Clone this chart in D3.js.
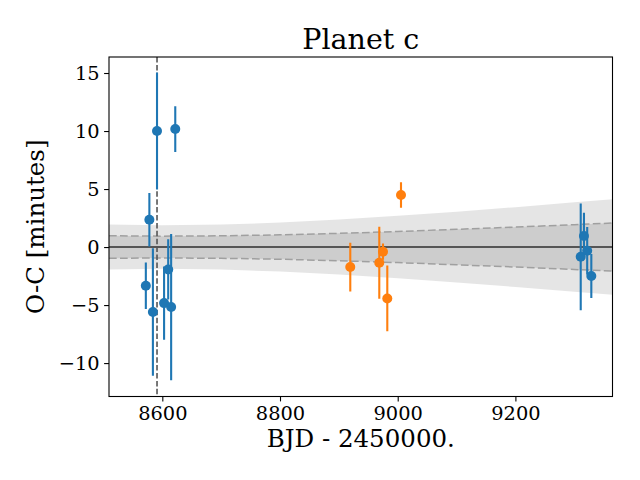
<!DOCTYPE html>
<html>
<head>
<meta charset="utf-8">
<script src="https://cdn.jsdelivr.net/npm/d3@7"></script>
<style>
  html, body { margin: 0; padding: 0; background: #fff; }
  svg { display: block; font-family: "DejaVu Serif", serif; }
</style>
</head>
<body>
<svg id="chart" width="640" height="480"></svg>
<script>
// ---- data ----
const blueTimes = [8572, 8578, 8584, 8591, 8603, 8610, 8615, 8622, 9311, 9316.5, 9322, 9329];
const blueOC    = [-3.34, 2.35, -5.6, 10.0, -4.83, -1.93, -5.17, 10.17, -0.84, 0.95, -0.32, -2.5];
const blueErr   = [2.0, 2.3, 5.5, 5.05, 3.15, 2.6, 6.3, 1.97, 4.6, 2.0, 2.04, 1.9];

const orangeTimes = [8919.4, 8968.7, 8975.0, 8982.3, 9005.6];
const orangeOC    = [-1.72, -1.36, -0.4, -4.43, 4.48];
const orangeErr   = [2.1, 3.1, 0.7, 2.83, 1.1];

// uncertainty band half-widths (minutes) read at sample times
const bandTimes = [8509.4, 8600, 8700, 8800, 8900, 9000, 9100, 9200, 9300, 9365];
const band1     = [0.97, 0.94, 0.97, 1.05, 1.18, 1.34, 1.53, 1.72, 1.93, 2.07];
const band2     = [1.94, 1.88, 1.94, 2.11, 2.37, 2.69, 3.05, 3.44, 3.86, 4.12];

const refEpoch = 8591;   // vertical dashed line
const xTicks = [8600, 8800, 9000, 9200];
const yTicks = [-10, -5, 0, 5, 10, 15];
const xDomain = [8509.4, 9365];
const yDomain = [-12.88, 16.38];

// ---- layout ----
const svg = d3.select("#chart");
const L = 109, R = 612.5, T = 57, B = 396.5;
const x = d3.scaleLinear().domain(xDomain).range([L, R]);
const y = d3.scaleLinear().domain(yDomain).range([B, T]);

svg.append("defs").append("clipPath").attr("id", "clip")
  .append("rect").attr("x", L).attr("y", T).attr("width", R - L).attr("height", B - T);

const g = svg.append("g").attr("clip-path", "url(#clip)");

const bandData = bandTimes.map((t, i) => ({t, s1: band1[i], s2: band2[i]}));

// outer band
g.append("path").datum(bandData)
  .attr("d", d3.area().x(d => x(d.t)).y0(d => y(-d.s2)).y1(d => y(d.s2)))
  .attr("fill", "#000").attr("fill-opacity", 0.1);
// inner band
g.append("path").datum(bandData)
  .attr("d", d3.area().x(d => x(d.t)).y0(d => y(-d.s1)).y1(d => y(d.s1)))
  .attr("fill", "#000").attr("fill-opacity", 0.1);

// dashed band edges
[s => s, s => -s].forEach(f => {
  g.append("path").datum(bandData)
    .attr("d", d3.line().x(d => x(d.t)).y(d => y(f(d.s1))))
    .attr("fill", "none").attr("stroke", "#a0a0a0").attr("stroke-width", 1.5)
    .attr("stroke-dasharray", "7.7,3.3");
});

// zero line
g.append("line")
  .attr("x1", L).attr("x2", R).attr("y1", y(0)).attr("y2", y(0))
  .attr("stroke", "#555").attr("stroke-width", 2);

// vertical reference line
g.append("line")
  .attr("x1", x(refEpoch)).attr("x2", x(refEpoch)).attr("y1", T).attr("y2", B)
  .attr("stroke", "#555").attr("stroke-width", 1.6)
  .attr("stroke-dasharray", "5.5,2.4");

function series(times, oc, err, color) {
  const data = times.map((t, i) => ({t, v: oc[i], e: err[i]}));
  const sg = g.append("g");
  sg.selectAll("line.err").data(data).enter().append("line")
    .attr("x1", d => x(d.t)).attr("x2", d => x(d.t))
    .attr("y1", d => y(d.v - d.e)).attr("y2", d => y(d.v + d.e))
    .attr("stroke", color).attr("stroke-width", 2.1);
  sg.selectAll("circle").data(data).enter().append("circle")
    .attr("cx", d => x(d.t)).attr("cy", d => y(d.v)).attr("r", 5)
    .attr("fill", color);
}
series(blueTimes, blueOC, blueErr, "#1f77b4");
series(orangeTimes, orangeOC, orangeErr, "#ff7f0e");

// axes
const xAxis = svg.append("g").attr("transform", `translate(0,${B})`)
  .call(d3.axisBottom(x).tickValues(xTicks).tickFormat(d3.format("d")).tickSize(4.9).tickPadding(4.5).tickSizeOuter(0));
const yAxis = svg.append("g").attr("transform", `translate(${L},0)`)
  .call(d3.axisLeft(y).tickValues(yTicks).tickFormat(d3.format("d")).tickSize(4.9).tickPadding(4.5).tickSizeOuter(0));
[xAxis, yAxis].forEach(a => {
  a.select(".domain").remove();
  a.selectAll("line").attr("stroke", "#000").attr("stroke-width", 1.1);
  a.selectAll("text").attr("font-family", "DejaVu Serif, serif").attr("font-size", 19.4).attr("fill", "#000");
});

// frame
svg.append("rect").attr("x", L).attr("y", T).attr("width", R - L).attr("height", B - T)
  .attr("fill", "none").attr("stroke", "#000").attr("stroke-width", 1.1);

// labels
svg.append("text").attr("x", (L + R) / 2).attr("y", 48.5).attr("text-anchor", "middle")
  .attr("font-size", 28.5).attr("fill", "#000").text("Planet c");
svg.append("text").attr("x", (L + R) / 2).attr("y", 447).attr("text-anchor", "middle")
  .attr("font-size", 24.5).attr("fill", "#000").text("BJD - 2450000.");
svg.append("text").attr("transform", `translate(44,${(T + B) / 2}) rotate(-90)`)
  .attr("text-anchor", "middle").attr("font-size", 24.5).attr("fill", "#000").text("O-C [minutes]");
</script>
</body>
</html>
